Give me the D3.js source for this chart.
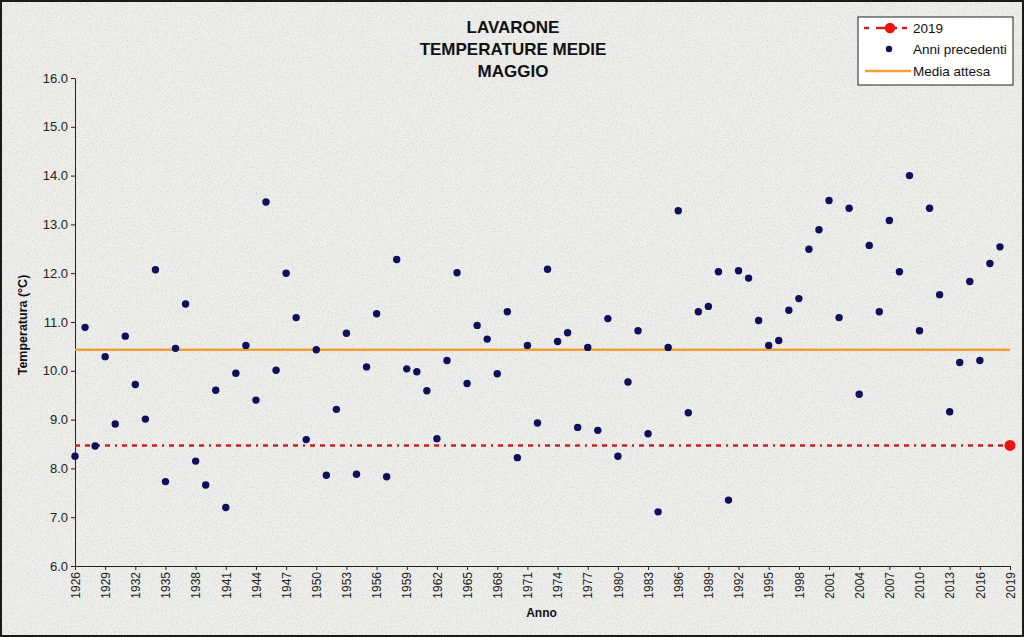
<!DOCTYPE html>
<html>
<head>
<meta charset="utf-8">
<script src="https://cdn.jsdelivr.net/npm/d3@7"></script>
<style>
  html, body { margin: 0; padding: 0; background: #fff; }
  svg { display: block; font-family: Arial, "Liberation Sans", sans-serif; }
</style>
</head>
<body>
<div id="chart"></div>
<script>
// May mean temperatures at Lavarone, 1926-2018
var years = d3.range(1926, 2019);
var temps = [
  8.25, 10.89, 8.46, 10.29, 8.91, 10.71, 9.72, 9.01, 12.07, 7.73,
  10.46, 11.37, 8.15, 7.66, 9.60, 7.20, 9.95, 10.52, 9.40, 13.46,
  10.01, 12.00, 11.09, 8.59, 10.43, 7.86, 9.21, 10.77, 7.88, 10.08,
  11.17, 7.83, 12.28, 10.04, 9.98, 9.59, 8.61, 10.21, 12.01, 9.74,
  10.93, 10.65, 9.94, 11.21, 8.22, 10.52, 8.93, 12.08, 10.60, 10.78,
  8.84, 10.48, 8.78, 11.07, 8.25, 9.77, 10.82, 8.71, 7.11, 10.48,
  13.28, 9.14, 11.21, 11.32, 12.03, 7.35, 12.05, 11.90, 11.03, 10.52,
  10.62, 11.24, 11.48, 12.49, 12.89, 13.49, 11.09, 13.33, 9.52, 12.57,
  11.21, 13.08, 12.03, 14.00, 10.82, 13.33, 11.56, 9.16, 10.17, 11.83,
  10.21, 12.20, 12.54
];
var currentYear = 2019;
var currentTemp = 8.47;
var mediaAttesa = 10.43;
var yTicks = [6, 7, 8, 9, 10, 11, 12, 13, 14, 15, 16];
var xTicks = d3.range(1926, 2020, 3);
var titleLines = ["LAVARONE", "TEMPERATURE MEDIE", "MAGGIO"];
var legendLabels = ["2019", "Anni precedenti", "Media attesa"];

var width = 1024, height = 637;
var margin = { top: 78, right: 14, bottom: 71, left: 75 };
var chartWidth = width - margin.left - margin.right;
var chartHeight = height - margin.top - margin.bottom;

var svg = d3.select("#chart").append("svg")
  .attr("width", width)
  .attr("height", height);

// granite-like background
var defs = svg.append("defs");
var filt = defs.append("filter").attr("id", "grain")
  .attr("x", 0).attr("y", 0).attr("width", "100%").attr("height", "100%");
filt.append("feTurbulence")
  .attr("type", "fractalNoise")
  .attr("baseFrequency", 0.8)
  .attr("numOctaves", 3)
  .attr("seed", 4);
filt.append("feColorMatrix")
  .attr("type", "matrix")
  .attr("values", "0 0 0 0 0.6  0 0 0 0 0.6  0 0 0 0 0.58  0 0 0 -2.2 1.25");

svg.append("rect").attr("width", width).attr("height", height).attr("fill", "#efefed");
svg.append("rect").attr("width", width).attr("height", height)
  .attr("fill", "#fff").attr("filter", "url(#grain)").attr("opacity", 0.7);
svg.append("rect")
  .attr("x", 1).attr("y", 1).attr("width", width - 2).attr("height", height - 2)
  .attr("fill", "none").attr("stroke", "#1a1a1a").attr("stroke-width", 2);

var chartGroup = svg.append("g")
  .attr("transform", `translate(${margin.left}, ${margin.top})`);

var x = d3.scaleLinear().domain([1926, 2019]).range([0, chartWidth]);
var y = d3.scaleLinear().domain([6, 16]).range([chartHeight, 0]);

// axes
var xAxis = d3.axisBottom(x).tickValues(xTicks).tickFormat(d3.format("d"))
  .tickSizeInner(4).tickSizeOuter(0);
var yAxis = d3.axisLeft(y).tickValues(yTicks).tickFormat(d3.format(".1f"))
  .tickSizeInner(4).tickSizeOuter(0);

var gx = chartGroup.append("g")
  .attr("transform", `translate(0,${chartHeight})`)
  .call(xAxis);
gx.selectAll("text")
  .attr("transform", "rotate(-90)")
  .attr("x", -6).attr("y", 0).attr("dy", "0.35em")
  .style("text-anchor", "end")
  .attr("font-size", 12).attr("fill", "#222");

var gy = chartGroup.append("g").call(yAxis);
gy.selectAll("text").attr("font-size", 13).attr("fill", "#222").attr("x", -7);

chartGroup.selectAll(".domain, .tick line").attr("stroke", "#222");

// reference lines
chartGroup.append("line")
  .attr("x1", x(1926)).attr("x2", x(2019))
  .attr("y1", y(mediaAttesa)).attr("y2", y(mediaAttesa))
  .attr("stroke", "#f0a035").attr("stroke-width", 2.5);

chartGroup.append("line")
  .attr("x1", x(1926)).attr("x2", x(2019))
  .attr("y1", y(currentTemp)).attr("y2", y(currentTemp))
  .attr("stroke", "#cc2020").attr("stroke-width", 2.5)
  .attr("stroke-dasharray", "5,5,5,5,5,5,5,5,2,5");

// previous years
chartGroup.selectAll(".dot")
  .data(years.map((yr, i) => ({ year: yr, temp: temps[i] })))
  .enter().append("circle")
  .attr("class", "dot")
  .attr("cx", d => x(d.year))
  .attr("cy", d => y(d.temp))
  .attr("r", 3.7)
  .attr("fill", "#0f0f5a");

// current year
chartGroup.append("circle")
  .attr("cx", x(currentYear)).attr("cy", y(currentTemp))
  .attr("r", 5.5).attr("fill", "#ee1111");

// titles
svg.append("g").selectAll("text")
  .data(titleLines)
  .enter().append("text")
  .attr("x", 513).attr("y", (d, i) => 33 + i * 22)
  .attr("text-anchor", "middle")
  .attr("font-size", 17).attr("font-weight", "bold").attr("fill", "#111")
  .text(d => d);

svg.append("text")
  .attr("x", margin.left + chartWidth / 2 - 1).attr("y", 617)
  .attr("text-anchor", "middle")
  .attr("font-size", 12).attr("font-weight", "bold").attr("fill", "#111")
  .text("Anno");

svg.append("text")
  .attr("transform", `translate(27, ${margin.top + chartHeight / 2 + 3}) rotate(-90)`)
  .attr("text-anchor", "middle")
  .attr("font-size", 12.5).attr("font-weight", "bold").attr("fill", "#111")
  .text("Temperatura (°C)");

// legend
var legend = svg.append("g").attr("transform", "translate(858,17)");
legend.append("rect")
  .attr("width", 155).attr("height", 68)
  .attr("fill", "#fff").attr("stroke", "#222").attr("stroke-width", 1);

var rowY = [11, 32, 54];
legend.append("line")
  .attr("x1", 6).attr("x2", 54).attr("y1", rowY[0]).attr("y2", rowY[0])
  .attr("stroke", "#cc2020").attr("stroke-width", 2.5)
  .attr("stroke-dasharray", "5,7,12,7,2,5");
legend.append("circle").attr("cx", 32).attr("cy", rowY[0]).attr("r", 5.2).attr("fill", "#ee1111");
legend.append("circle").attr("cx", 31).attr("cy", rowY[1]).attr("r", 3.2).attr("fill", "#0f0f5a");
legend.append("line")
  .attr("x1", 7).attr("x2", 53).attr("y1", rowY[2]).attr("y2", rowY[2])
  .attr("stroke", "#f0a035").attr("stroke-width", 2.5);

legend.selectAll(".ltext")
  .data(legendLabels)
  .enter().append("text")
  .attr("class", "ltext")
  .attr("x", 55).attr("y", (d, i) => rowY[i] + 5)
  .attr("font-size", 13.5).attr("fill", "#111")
  .text(d => d);
</script>
</body>
</html>
